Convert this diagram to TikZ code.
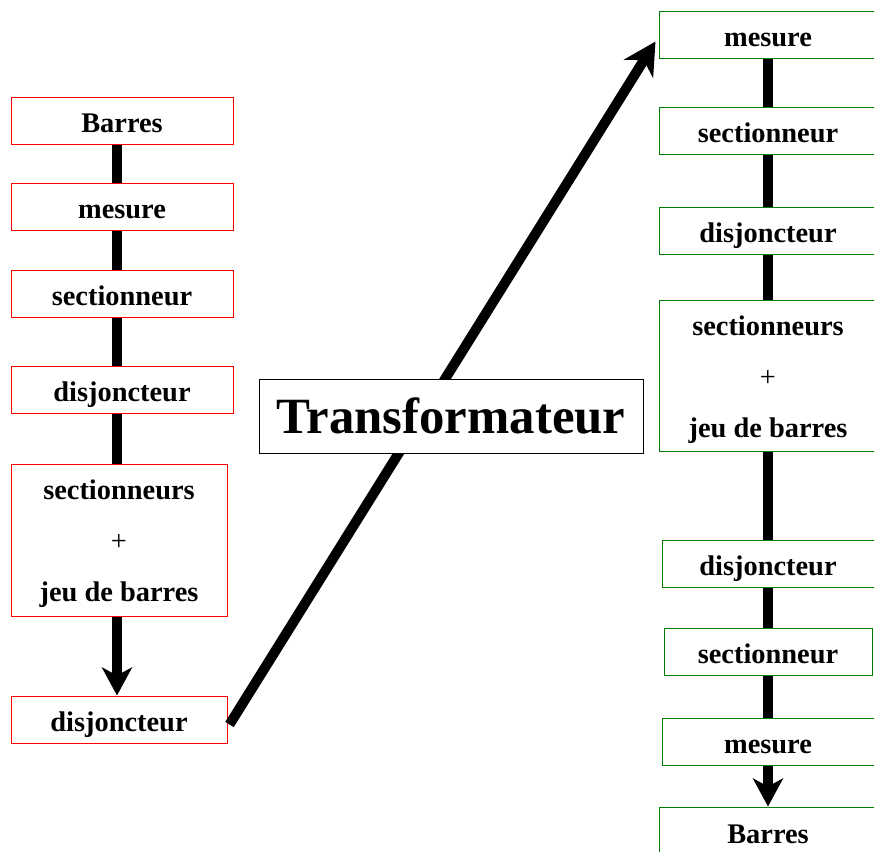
\documentclass[tikz,border=0pt]{standalone}
\usepackage{fontspec}
\setmainfont{Liberation Serif}
\usepackage{xcolor}
\definecolor{redline}{HTML}{FF0000}
\definecolor{greenline}{HTML}{008000}
\usetikzlibrary{arrows.meta,calc}

\begin{document}
\begin{tikzpicture}[
  x=0.5pt, y=-0.5pt,
  font=\fontsize{14.2}{25.5}\selectfont\bfseries,
  lbox/.style={draw=redline, fill=white, line width=0.5pt,
    minimum width=111pt, minimum height=23.5pt, inner sep=0pt},
  rbox/.style={lbox, draw=greenline, minimum width=109pt},
  one/.style={text height=11.5pt, text depth=0pt},
  tall/.style={minimum height=76pt, align=center},
  bus/.style={line width=5pt, black},
  flow/.style={bus, -{Stealth[length=14pt, width=15pt, inset=4pt]}}
]
\useasboundingbox (0,0) rectangle (874,852);
% left column
\coordinate (lx) at (117,0);
\node[lbox, one] (lb1) at (122,120.5) {Barres};
\node[lbox, one] (lb2) at (122,206.5) {mesure};
\node[lbox, one] (lb3) at (122,293.5) {sectionneur};
\node[lbox, one] (lb4) at (122,389.5) {disjoncteur};
\node[lbox, tall, minimum width=108pt] (lb5) at (119,540)
  {\rule{0pt}{14pt}sectionneurs\\{\mdseries +}\\jeu de barres};
\node[lbox, one, minimum width=108pt] (lb6) at (119,719.5) {disjoncteur};
\draw[bus] (lb1.south -| lx) -- (lb2.north -| lx);
\draw[bus] (lb2.south -| lx) -- (lb3.north -| lx);
\draw[bus] (lb3.south -| lx) -- (lb4.north -| lx);
\draw[bus] (lb4.south -| lx) -- (lb5.north -| lx);
\draw[flow] (lb5.south -| lx) -- (lb6.north -| lx);
% right column
\node[rbox, one] (rb1) at (768,34.5) {mesure};
\node[rbox, one] (rb2) at (768,130.5) {sectionneur};
\node[rbox, one] (rb3) at (768,230.5) {disjoncteur};
\node[rbox, tall, minimum height=75.5pt] (rb4) at (768,375.5)
  {\rule{0pt}{14pt}sectionneurs\\{\mdseries +}\\jeu de barres};
\node[rbox, one, minimum width=106pt] (rb5) at (768,563.5) {disjoncteur};
\node[rbox, one, minimum width=104pt] (rb6) at (768,651.5) {sectionneur};
\node[rbox, one, minimum width=106pt] (rb7) at (768,741.5) {mesure};
\node[rbox, one, minimum height=25pt] (rb8) at (768,832) {Barres};
\draw[bus] (rb1) -- (rb2);
\draw[bus] (rb2) -- (rb3);
\draw[bus] (rb3) -- (rb4);
\draw[bus] (rb4) -- (rb5);
\draw[bus] (rb5) -- (rb6);
\draw[bus] (rb6) -- (rb7);
\draw[flow] (rb7) -- (rb8);
% transformer
\draw[bus, -{Stealth[length=16pt, width=17pt, inset=5pt]}]
  ($(lb6.east)+(2,5)$) -- ($(rb1.west)+(-3,7)$);
\node[draw=black, fill=white, line width=0.5pt, minimum width=192pt,
  minimum height=37pt, font=\fontsize{25.4}{30}\selectfont\bfseries]
  (tr) at (451,416) {Transformateur};
\end{tikzpicture}
\end{document}
